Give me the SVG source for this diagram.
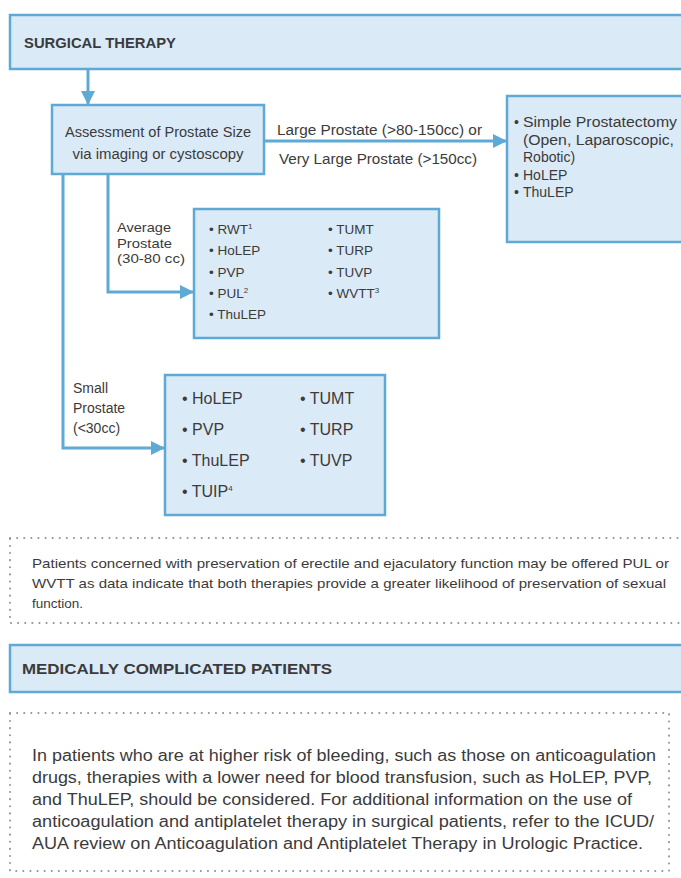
<svg xmlns="http://www.w3.org/2000/svg" width="681" height="878" viewBox="0 0 681 878">
<defs>
<style>
text{font-family:"Liberation Sans",Arial,sans-serif;fill:#3b3b3b}
.hdr{fill:#dbeaf7;stroke:#5fa9d6;stroke-width:2.5}
.box{fill:#dbeaf7;stroke:#5fa9d6;stroke-width:2.5}
.ttl{font-weight:bold;font-size:15px}
.t14{font-size:14px}
.t135{font-size:13.5px}
.t13{font-size:13.5px}
.t16{font-size:16px}
.n1{font-size:13.5px}
.n2{font-size:16px}
.sup{font-size:8px}
.con{fill:none;stroke:#5fa9d6;stroke-width:3}
.dot{fill:none;stroke:#939393;stroke-width:2;stroke-dasharray:0.1 7;stroke-linecap:round}
</style>
<marker id="ah" markerUnits="userSpaceOnUse" markerWidth="14" markerHeight="14" refX="14" refY="7" orient="auto">
<path d="M0,0 L14,7 L0,14 z" fill="#5fa9d6"/>
</marker>
</defs>
<rect width="681" height="878" fill="#ffffff"/>

<g id="surgical-therapy">
<rect class="hdr" x="10" y="15" width="690" height="54"/>
<text class="ttl" x="24" y="48" textLength="152" lengthAdjust="spacingAndGlyphs">SURGICAL THERAPY</text>
</g>

<g id="assessment">
<rect class="box" x="52" y="105" width="212" height="69"/>
<text class="t14" x="158" y="137" text-anchor="middle" textLength="186" lengthAdjust="spacingAndGlyphs">Assessment of Prostate Size</text>
<text class="t14" x="158" y="159" text-anchor="middle" textLength="171" lengthAdjust="spacingAndGlyphs">via imaging or cystoscopy</text>
</g>

<g id="large-options">
<rect class="box" x="507" y="96" width="190" height="146"/>
<text class="t14" x="514" y="127">•</text>
<text class="t14" x="523" y="127" textLength="154" lengthAdjust="spacingAndGlyphs">Simple Prostatectomy</text>
<text class="t14" x="523" y="145" textLength="151" lengthAdjust="spacingAndGlyphs">(Open, Laparoscopic,</text>
<text class="t14" x="523" y="162">Robotic)</text>
<text class="t14" x="514" y="180">•</text>
<text class="t14" x="523" y="180">HoLEP</text>
<text class="t14" x="514" y="197">•</text>
<text class="t14" x="523" y="197">ThuLEP</text>
</g>

<g id="average-options">
<rect class="box" x="194" y="209" width="245" height="129"/>
<g class="t13">
<text x="209" y="234">• RWT<tspan class="sup" dy="-5">1</tspan></text>
<text x="209" y="255">• HoLEP</text>
<text x="209" y="277">• PVP</text>
<text x="209" y="298">• PUL<tspan class="sup" dy="-5">2</tspan></text>
<text x="209" y="319">• ThuLEP</text>
<text x="328" y="234">• TUMT</text>
<text x="328" y="255">• TURP</text>
<text x="328" y="277">• TUVP</text>
<text x="328" y="298">• WVTT<tspan class="sup" dy="-5">3</tspan></text>
</g>
</g>

<g id="small-options">
<rect class="box" x="165" y="375" width="220" height="140"/>
<g class="t16">
<text x="182" y="404">• HoLEP</text>
<text x="182" y="435">• PVP</text>
<text x="182" y="466">• ThuLEP</text>
<text x="182" y="497">• TUIP<tspan class="sup" dy="-6">4</tspan></text>
<text x="300" y="404">• TUMT</text>
<text x="300" y="435">• TURP</text>
<text x="300" y="466">• TUVP</text>
</g>
</g>

<g id="connectors">
<path class="con" d="M88,69 V105" marker-end="url(#ah)"/>
<path class="con" d="M264,141 H507" marker-end="url(#ah)"/>
<path class="con" d="M108,174 V292 H194" marker-end="url(#ah)"/>
<path class="con" d="M63,174 V448 H165" marker-end="url(#ah)"/>
<g id="connector-labels">
<text class="t14" x="277" y="135" textLength="205" lengthAdjust="spacingAndGlyphs">Large Prostate (&gt;80-150cc) or</text>
<text class="t14" x="279" y="164" textLength="198" lengthAdjust="spacingAndGlyphs">Very Large Prostate (&gt;150cc)</text>
<text class="t135" x="117" y="232" textLength="54" lengthAdjust="spacingAndGlyphs">Average</text>
<text class="t135" x="117" y="247.5" textLength="55" lengthAdjust="spacingAndGlyphs">Prostate</text>
<text class="t135" x="117" y="263" textLength="68" lengthAdjust="spacingAndGlyphs">(30-80 cc)</text>
<text class="t14" x="73" y="393">Small</text>
<text class="t14" x="73" y="413">Prostate</text>
<text class="t14" x="73" y="433">(&lt;30cc)</text>
</g>
</g>

<g id="note-sexual-function">
<rect class="dot" x="10" y="538" width="700" height="85"/>
<text class="n1" x="32" y="568" textLength="637" lengthAdjust="spacingAndGlyphs">Patients concerned with preservation of erectile and ejaculatory function may be offered PUL or</text>
<text class="n1" x="32" y="588" textLength="634" lengthAdjust="spacingAndGlyphs">WVTT as data indicate that both therapies provide a greater likelihood of preservation of sexual</text>
<text class="n1" x="32" y="608">function.</text>
</g>

<g id="medically-complicated">
<rect class="hdr" x="10" y="645" width="690" height="47"/>
<text class="ttl" x="22" y="674" textLength="310" lengthAdjust="spacingAndGlyphs">MEDICALLY COMPLICATED PATIENTS</text>
</g>

<g id="note-bleeding">
<rect class="dot" x="10" y="713" width="659" height="158"/>
<text class="n2" x="32" y="761" textLength="624" lengthAdjust="spacingAndGlyphs">In patients who are at higher risk of bleeding, such as those on anticoagulation</text>
<text class="n2" x="32" y="783" textLength="620" lengthAdjust="spacingAndGlyphs">drugs, therapies with a lower need for blood transfusion, such as HoLEP, PVP,</text>
<text class="n2" x="32" y="805" textLength="600" lengthAdjust="spacingAndGlyphs">and ThuLEP, should be considered. For additional information on the use of</text>
<text class="n2" x="32" y="827" textLength="622" lengthAdjust="spacingAndGlyphs">anticoagulation and antiplatelet therapy in surgical patients, refer to the ICUD/</text>
<text class="n2" x="32" y="849" textLength="611" lengthAdjust="spacingAndGlyphs">AUA review on Anticoagulation and Antiplatelet Therapy in Urologic Practice.</text>
</g>
</svg>
